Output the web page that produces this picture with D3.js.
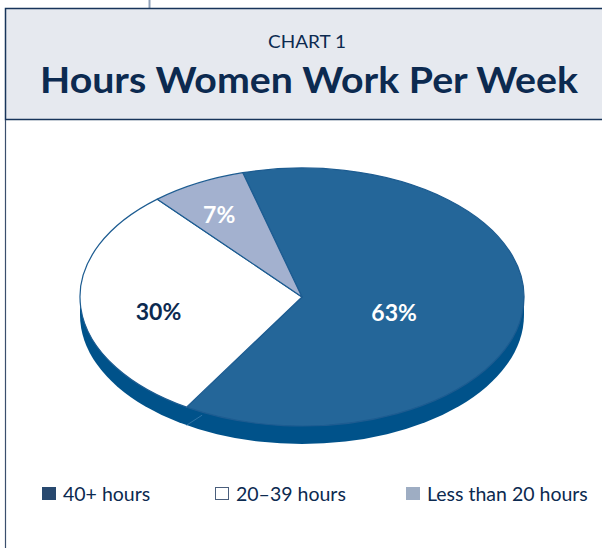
<!DOCTYPE html>
<html lang="en">
<head>
  <meta charset="UTF-8" />
  <title>Hours Women Work Per Week</title>
  <script src="https://d3js.org/d3.v7.min.js"></script>
  <style>
    body { margin: 0; background: #fff; }
    svg { display: block; font-family: Lato, "Open Sans", sans-serif; }
  </style>
</head>
<body>
  <div id="chart"></div>

  <script>
    // data
    const categories = ["40+ hours", "20–39 hours", "Less than 20 hours"];
    const shares = [63, 30, 7];
    const labels = ["63%", "30%", "7%"];

    const W = 602, H = 548;
    const cx = 302, cy = 297, rx = 222, ry = 129, depth = 18;
    const k = ry / rx;

    const topColors = ["#246699", "#ffffff", "#a3b1cf"];
    const labelColors = ["#ffffff", "#0c2a50", "#ffffff"];
    const labelRadius = [93, 144, 176];
    const legendX = [42, 215, 406];
    const legendFill = ["#28496f", "#ffffff", "#9eadc3"];

    const svg = d3.select("#chart").append("svg")
      .attr("width", W)
      .attr("height", H);

    // header frame
    svg.append("line")
      .attr("x1", 149.5).attr("x2", 149.5).attr("y1", 0).attr("y2", 9)
      .attr("stroke", "#8fa0b8").attr("stroke-width", 2);

    svg.append("rect")
      .attr("x", 5.5).attr("y", 8.5)
      .attr("width", W + 10).attr("height", 111)
      .attr("fill", "#e6e9ef")
      .attr("stroke", "#17345a").attr("stroke-width", 1.5);

    svg.append("line")
      .attr("x1", 5.5).attr("x2", 5.5).attr("y1", 120).attr("y2", H)
      .attr("stroke", "#3b4f6d").attr("stroke-width", 1.2);

    svg.append("text")
      .attr("x", 307).attr("y", 48)
      .attr("text-anchor", "middle")
      .attr("fill", "#0c2a50")
      .style("font-size", "18px")
      .attr("textLength", 78)
      .attr("lengthAdjust", "spacingAndGlyphs")
      .text("CHART 1");

    svg.append("text")
      .attr("x", 309).attr("y", 93)
      .attr("text-anchor", "middle")
      .attr("fill", "#0c2a50")
      .style("font-size", "36px")
      .style("font-weight", "bold")
      .attr("textLength", 538)
      .attr("lengthAdjust", "spacingAndGlyphs")
      .text("Hours Women Work Per Week");

    // pie
    const pie = d3.pie()
      .sort(null)
      .startAngle(-0.27)
      .endAngle(-0.27 + 2 * Math.PI);
    const arcs = pie(shares);
    const arc = d3.arc().innerRadius(0).outerRadius(rx);

    // side of the disc
    const side = svg.append("g");
    side.append("ellipse")
      .attr("cx", cx).attr("cy", cy + depth)
      .attr("rx", rx).attr("ry", ry)
      .attr("fill", "#00528a");
    side.append("rect")
      .attr("x", cx - rx).attr("y", cy)
      .attr("width", 2 * rx).attr("height", depth)
      .attr("fill", "#00528a");

    // seam on the side under the white / dark boundary
    const seamA = arcs[0].endAngle;
    side.append("line")
      .attr("x1", cx + rx * Math.sin(seamA - 0.08))
      .attr("y1", cy - ry * Math.cos(seamA - 0.08) + 3)
      .attr("x2", cx + rx * Math.sin(seamA))
      .attr("y2", cy - ry * Math.cos(seamA) + depth)
      .attr("stroke", "#2f74a6").attr("stroke-width", 1);

    const face = svg.append("g")
      .attr("transform", `translate(${cx},${cy}) scale(1,${k})`);

    face.selectAll("path")
      .data(arcs)
      .enter()
      .append("path")
      .attr("d", arc)
      .attr("fill", (d, i) => topColors[i])
      .attr("stroke", "#1d5c91")
      .attr("stroke-width", 1.2)
      .attr("vector-effect", "non-scaling-stroke")
      .attr("stroke-linejoin", "round");

    svg.selectAll("text.pct")
      .data(arcs)
      .enter()
      .append("text")
      .attr("class", "pct")
      .attr("x", (d, i) => cx + labelRadius[i] * Math.sin((d.startAngle + d.endAngle) / 2))
      .attr("y", (d, i) => cy + 8 - labelRadius[i] * k * Math.cos((d.startAngle + d.endAngle) / 2))
      .attr("dy", "0.36em")
      .attr("text-anchor", "middle")
      .attr("fill", (d, i) => labelColors[i])
      .style("font-size", "23px")
      .style("font-weight", "bold")
      .text((d, i) => labels[i]);

    // legend
    const legend = svg.append("g");
    categories.forEach((c, i) => {
      legend.append("rect")
        .attr("x", legendX[i] + 0.5).attr("y", 487.5)
        .attr("width", 13).attr("height", 12)
        .attr("fill", legendFill[i])
        .attr("stroke", i === 1 ? "#4a5e7c" : legendFill[i])
        .attr("stroke-width", 1);
      legend.append("text")
        .attr("x", legendX[i] + 21).attr("y", 501)
        .attr("fill", "#0c2a50")
        .style("font-size", "19.5px")
        .text(c);
    });
  </script>
</body>
</html>
